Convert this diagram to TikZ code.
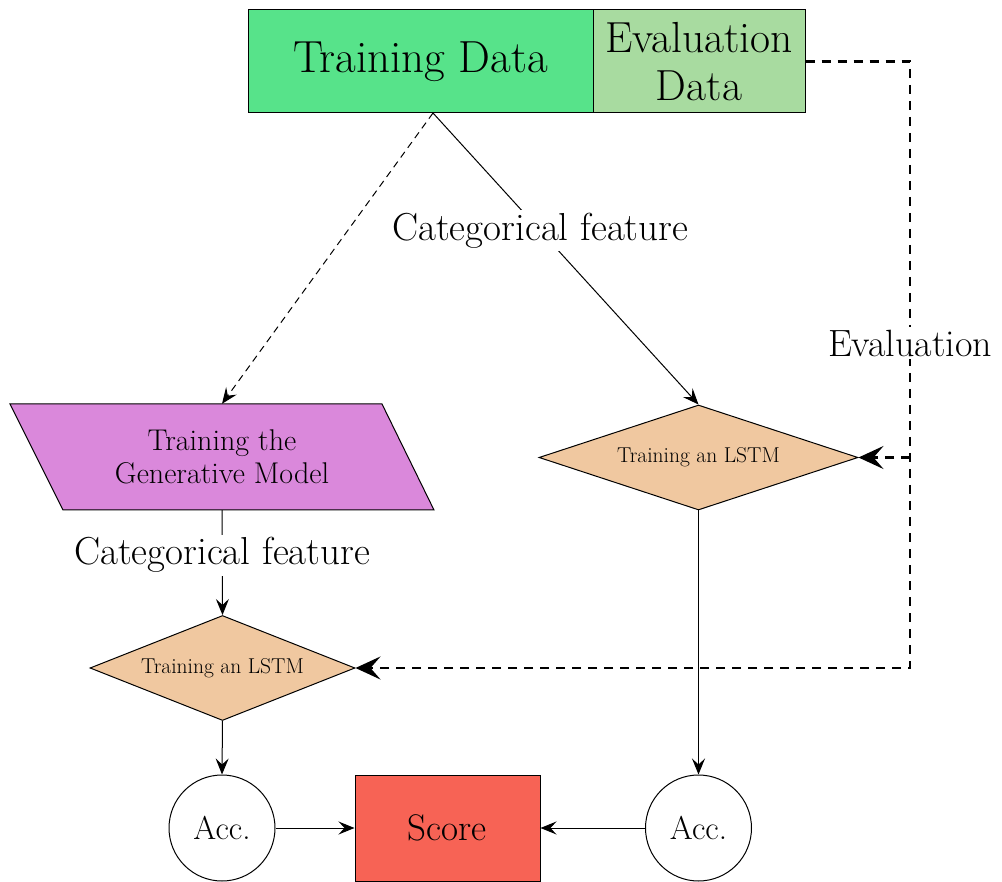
\documentclass[tikz,border=0pt]{standalone}
\usepackage{fontspec}
\usetikzlibrary{shapes.geometric,arrows.meta}
\definecolor{tdgreen}{HTML}{57E38A}
\definecolor{edgreen}{HTML}{A8DBA0}
\definecolor{genpink}{HTML}{DA88DB}
\definecolor{lstmtan}{HTML}{F0C8A0}
\definecolor{scorered}{HTML}{F76355}
\tikzset{
  box/.style={draw, line width=1pt, inner sep=0pt},
  arr/.style={-{Stealth[length=16pt,width=13pt,inset=6pt]}, line width=1pt},
  evdash/.style={line width=2.6pt, dash pattern=on 9pt off 7pt, line join=miter},
  evarr/.style={evdash, -{Stealth[length=25pt,width=23pt,inset=10pt]}},
  thindash/.style={dash pattern=on 7pt off 5pt},
  lbl/.style={fill=white, inner sep=3pt},
  lstm/.style={diamond, draw, line width=1pt, fill=lstmtan, aspect=2.5, inner sep=0pt, minimum height=105pt, font=\fontsize{21.5}{24}\selectfont},
  acc/.style={circle, draw, line width=1pt, minimum size=106pt, inner sep=0pt, font=\fontsize{33}{38}\selectfont}
}
\begin{document}
\begin{tikzpicture}[x=1pt,y=-1pt]
\useasboundingbox (0,0) rectangle (1002,882);
% top boxes
\node[box, fill=tdgreen, minimum width=345pt, minimum height=103pt, font=\fontsize{45}{50}\selectfont] (td) at (420.5,61.5) {Training Data};
\node[box, fill=edgreen, minimum width=212pt, minimum height=103pt, align=center, font=\fontsize{43.5}{48}\selectfont] (ed) at (699,61.5) {Evaluation\\Data};
% generative model parallelogram
\filldraw[fill=genpink, line width=1pt] (10,404) -- (382,404) -- (434,510) -- (63,510) -- cycle;
\node[minimum width=372pt, minimum height=106pt, inner sep=0pt, align=center, font=\fontsize{30}{33}\selectfont] (gen) at (222,457) {Training the\\Generative Model};
% LSTMs
\node[lstm, minimum width=265pt] (l1) at (222.5,668) {Training an LSTM};
\node[lstm, minimum width=319pt] (l2) at (698.5,457.5) {Training an LSTM};
% accuracies and score
\node[acc] (a1) at (222,828) {Acc.};
\node[acc] (a2) at (698.5,828) {Acc.};
\node[box, fill=scorered, minimum width=185pt, minimum height=106pt, font=\fontsize{37}{42}\selectfont] (sc) at (447.5,828) {Score};
% connectors
\coordinate (split) at (433,113);
\draw[arr, thindash] (split) -- (gen.north);
\draw[arr] (split) -- node[pos=0.404, lbl, font=\fontsize{39}{44}\selectfont] (cf1) {Categorical feature} (l2.north);
\draw[arr] (gen.south) -- node[pos=0.43, lbl, font=\fontsize{39}{44}\selectfont] (cf2) {Categorical feature} (l1.north);
\draw[arr] (l1.south) -- (a1.north);
\draw[arr] (l2.south) -- (a2.north);
\draw[arr] (a1.east) -- (sc.west);
\draw[arr] (a2.west) -- (sc.east);
% evaluation dashed
\coordinate (c1) at (910,61.5);
\coordinate (c2) at (910,668);
\coordinate (j) at (910,457.5);
\draw[evarr] (ed.east) -- (c1) -- (c2) -- (l1.east);
\draw[evarr] (j) -- (l2.east);
\node[lbl, font=\fontsize{38}{42}\selectfont] (evl) at (910,343) {Evaluation};
\end{tikzpicture}
\end{document}
